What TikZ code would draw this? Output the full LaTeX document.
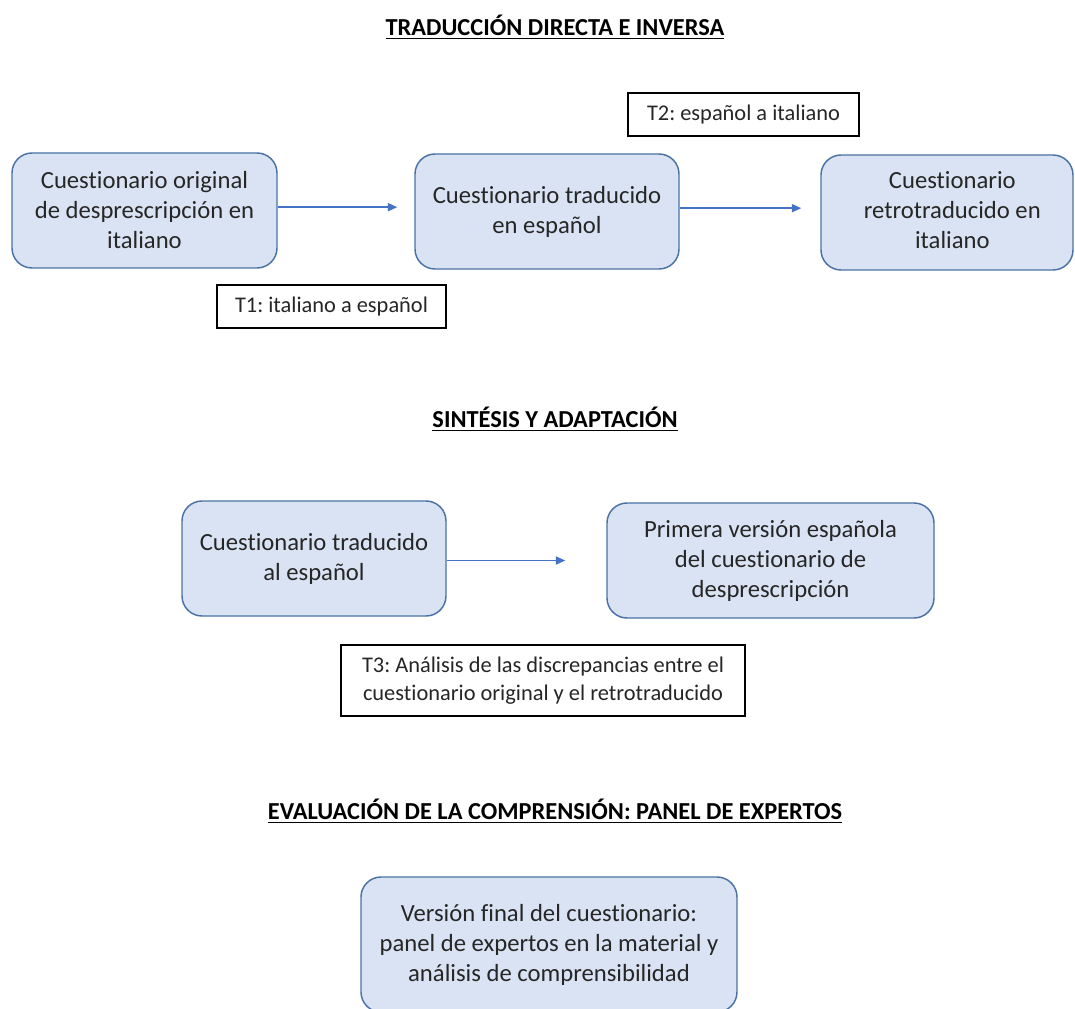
\documentclass[tikz,border=0pt]{standalone}
\usepackage{fontspec}
\setmainfont{Carlito}[Ligatures=CommonOff]
\usetikzlibrary{arrows.meta,calc}
\definecolor{boxfill}{HTML}{DAE3F3}
\definecolor{boxline}{HTML}{4A72A6}
\definecolor{arrcol}{HTML}{4472C4}
\definecolor{txt}{HTML}{262626}
\frenchspacing
\begin{document}
\begin{tikzpicture}[x=0.75pt,y=-0.75pt,
  bluebox/.style={draw=boxline,fill=boxfill,line width=1.1pt,rounded corners=15pt,
    inner sep=0pt,align=center,text=txt,font=\fontsize{18.5}{22.5}\selectfont},
  labelbox/.style={draw=black,line width=1.1pt,inner sep=0pt,align=center,text=txt,
    font=\fontsize{16.8}{21}\selectfont},
  titletext/.style={inner sep=0pt,text=black,font=\bfseries\fontsize{18.3}{22}\selectfont},
  arr/.style={draw=arrcol,line width=1.1pt,-{Triangle[length=7pt,width=6pt]}}]
\useasboundingbox (0,0) rectangle (1075,1009);
\clip (0,0) rectangle (1075,1009);
\fill[white] (0,0) rectangle (1075,1009);

\node[titletext] (t1) at (555,27) {\underline{TRADUCCIÓN DIRECTA E INVERSA}};

\node[bluebox,minimum width=198.75pt,minimum height=86.25pt] (A) at (144.5,210.5)
  {Cuestionario original\\de desprescripción en\\italiano};
\node[bluebox,minimum width=198pt,minimum height=86.25pt] (B) at (547,211.5)
  {Cuestionario traducido\\en español};
\node[bluebox,minimum width=189pt,minimum height=86.25pt] (C) at (947,212.5)
  {\hspace*{8pt}\begin{tabular}{@{}c@{}}Cuestionario\\retrotraducido en\\italiano\end{tabular}};

\node[labelbox,minimum width=173.25pt,minimum height=32.25pt] (L2) at (743.5,114.5)
  {T2: español a italiano};
\node[labelbox,minimum width=171.75pt,minimum height=32.25pt] (L1) at (331.5,306.5)
  {T1: italiano a español};

\draw[arr,shorten >=12.75pt] ([yshift=2.5pt]A.east) -- ([yshift=2.5pt]A.east -| B.west);
\draw[arr,shorten >=14.25pt] ([yshift=2.5pt]B.east) -- ([yshift=2.5pt]B.east -| C.west);

\node[titletext] (t2) at (555,419) {\underline{SINTÉSIS Y ADAPTACIÓN}};

\node[bluebox,minimum width=198pt,minimum height=86.25pt] (D) at (314,558.5)
  {Cuestionario traducido\\al español};
\node[bluebox,minimum width=245.25pt,minimum height=86.25pt] (E) at (770.5,560.5)
  {Primera versión española\\del cuestionario de\\desprescripción};
\draw[arr,shorten >=30.75pt] ([yshift=-1.5pt]D.east) -- ([yshift=-1.5pt]D.east -| E.west);

\node[labelbox,minimum width=303pt,minimum height=53.25pt] (L3) at (543,680.5)
  {T3: Análisis de las discrepancias entre el\\cuestionario original y el retrotraducido};

\node[titletext] (t3) at (555,811) {\underline{EVALUACIÓN DE LA COMPRENSIÓN: PANEL DE EXPERTOS}};

\node[bluebox,minimum width=282pt,minimum height=101.25pt] (F) at (549,944.5)
  {Versión final del cuestionario:\\panel de expertos en la material y\\análisis de comprensibilidad};
\end{tikzpicture}
\end{document}
